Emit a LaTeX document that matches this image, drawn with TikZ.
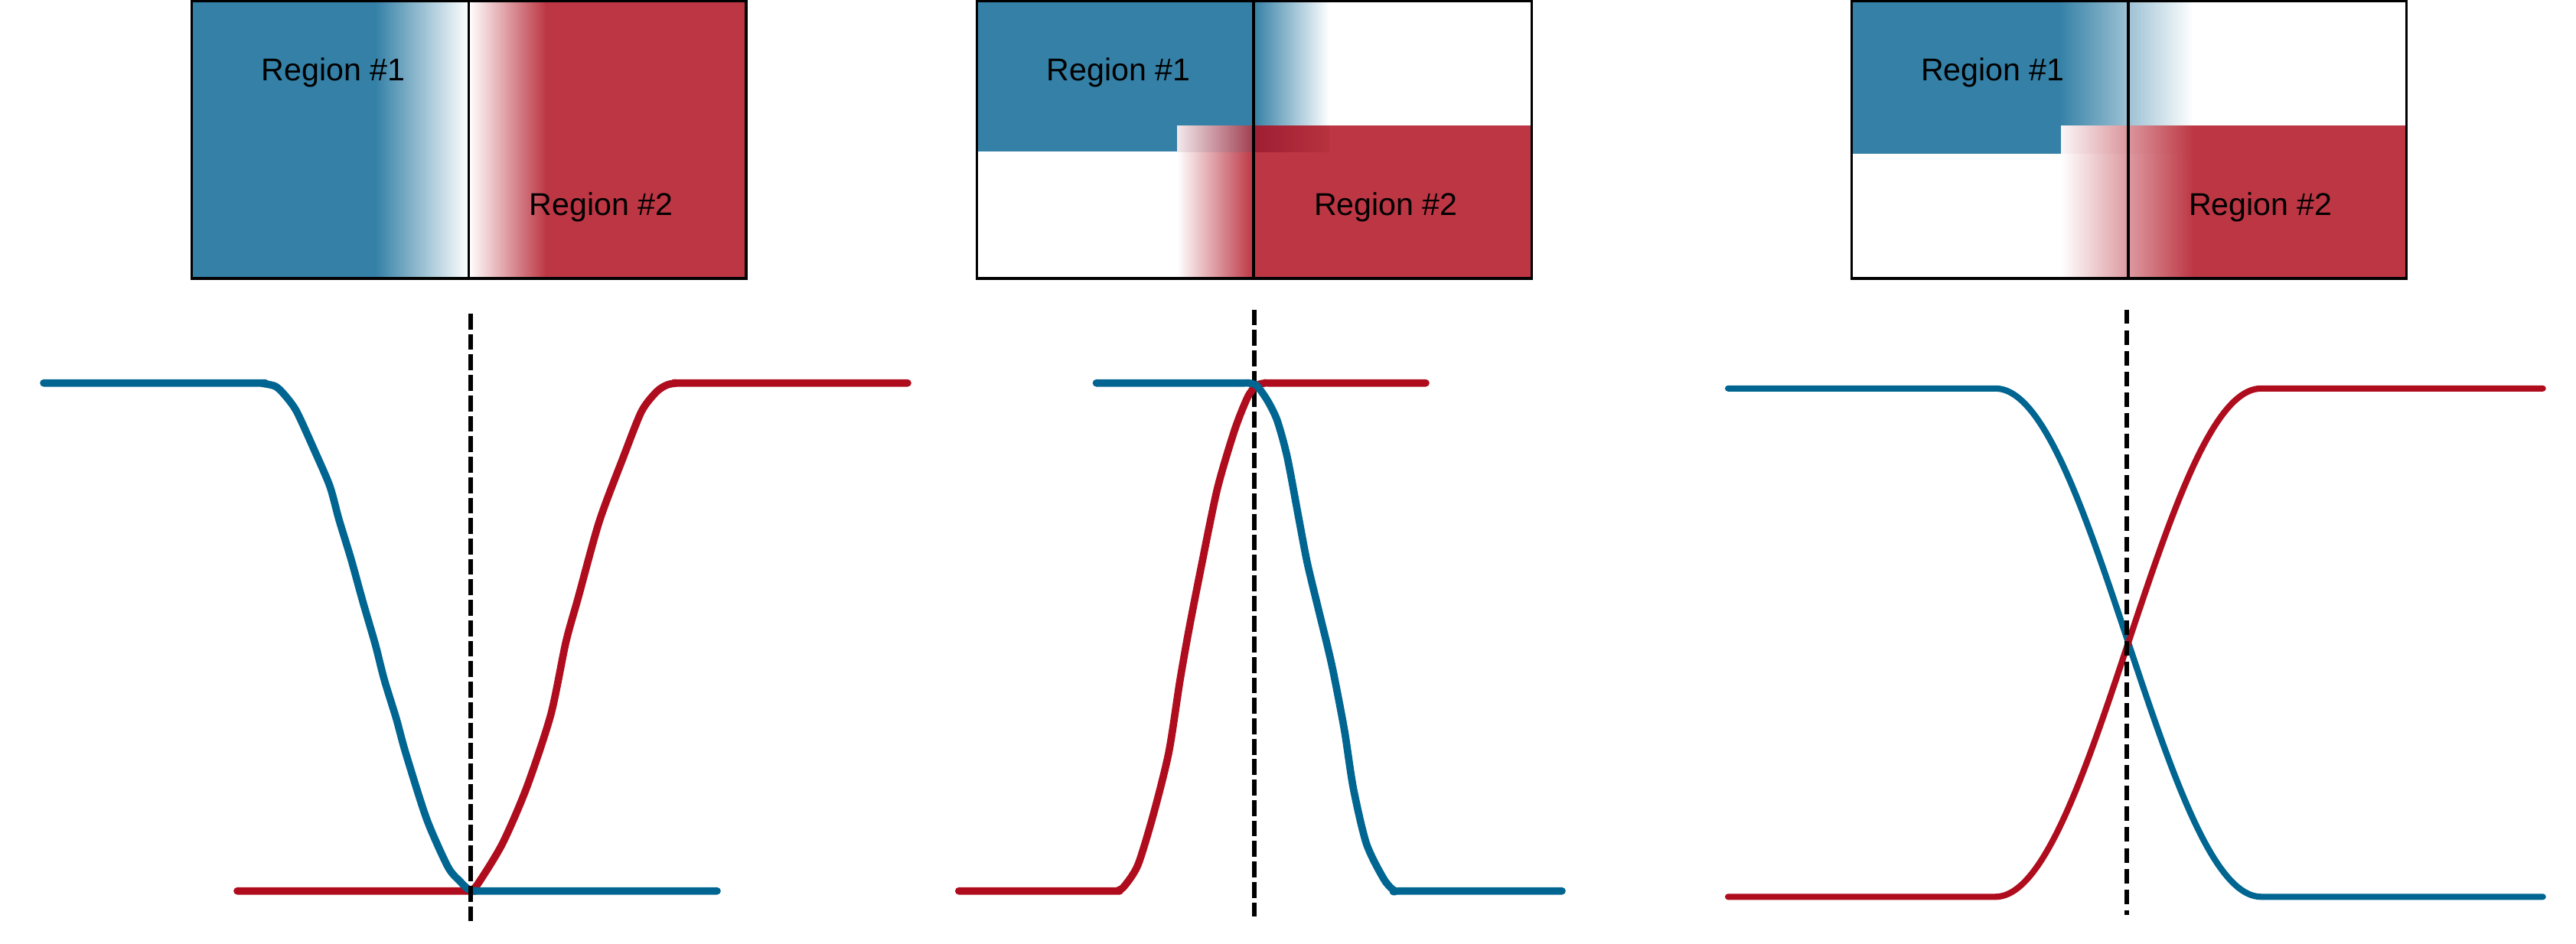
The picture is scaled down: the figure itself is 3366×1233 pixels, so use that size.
\documentclass[tikz,border=0pt]{standalone}
\usepackage{fontspec}
\setmainfont{Liberation Sans}
\definecolor{bfill}{RGB}{52,128,166}
\definecolor{rfill}{RGB}{188,54,67}
\definecolor{bline}{RGB}{0,101,145}
\definecolor{rline}{RGB}{175,13,30}
\definecolor{ovAa}{RGB}{242,232,235}
\definecolor{ovAm}{RGB}{200,140,152}
\definecolor{ovAb}{RGB}{160,62,80}
\definecolor{ovBa}{RGB}{158,30,50}
\definecolor{ovBb}{RGB}{184,50,63}
\definecolor{ovCa}{RGB}{250,246,247}
\definecolor{ovCm}{RGB}{205,137,147}
\tikzset{
  boxframe/.style={draw=black, line width=0.95pt},
  curveA/.style={line width=2.75pt, line cap=round, line join=round},
  curveC/.style={line width=2.3pt, line cap=round, line join=round},
  dashA/.style={draw=black, line width=1.7pt, dash pattern=on 5.9pt off 1.7pt},
  dashC/.style={draw=black, line width=1.7pt, dash pattern=on 5.4pt off 2.3pt},
  lbl/.style={anchor=base, inner sep=0pt, font=\fontsize{11.7}{14}\selectfont}
}
\begin{document}
\begin{tikzpicture}[x=0.01cm, y=-0.01cm]
\useasboundingbox (0,0) rectangle (3366,1233);

% ---------- Panel 1 box ----------
\fill[bfill] (250.5,1.7) rectangle (490,364);
\shade[left color=bfill, right color=white] (490,1.7) rectangle (612.3,364);
\shade[left color=white, right color=rfill] (612.3,1.7) rectangle (714,364);
\fill[rfill] (714,1.7) rectangle (975,364);
\draw[boxframe] (250.5,1.7) rectangle (975,364);
\draw[boxframe] (612.3,1.7) -- (612.3,364);
\node[lbl] (p1r1) at (435.7,105) {Region \#1};
\node[lbl] (p1r2) at (785.7,281.7) {Region \#2};

% ---------- Panel 2 box ----------
\fill[bfill] (1276.5,1.7) rectangle (1638,198.3);
\shade[left color=bfill, right color=white] (1638,1.7) rectangle (1737,164);
\shade[left color=white, right color=rfill] (1538,198.3) rectangle (1638,364);
\fill[rfill] (1638,198.3) rectangle (2001.6,364);
\fill[rfill] (1737,164) rectangle (2001.6,198.3);
\shade[left color=ovAa, middle color=ovAm, right color=ovAb] (1538,164) rectangle (1638,198.3);
\shade[left color=ovBa, right color=ovBb] (1638,164) rectangle (1737,198.3);
\draw[boxframe] (1276.5,1.7) rectangle (2001.6,364);
\draw[boxframe] (1638,1.7) -- (1638,364);
\node[lbl] (p2r1) at (1461.5,105) {Region \#1};
\node[lbl] (p2r2) at (1811,281.7) {Region \#2};

% ---------- Panel 3 box ----------
\fill[bfill] (2419.6,1.7) rectangle (2690,200.7);
\shade[left color=bfill, right color=white] (2690,1.7) rectangle (2866,200.7);
\shade[left color=white, right color=rfill] (2693,200.7) rectangle (2867,364);
\shade[left color=ovCa, middle color=ovCm, right color=rfill] (2693,164) rectangle (2867,200.7);
\fill[rfill] (2867,164) rectangle (3144.3,364);
\draw[boxframe] (2419.6,1.7) rectangle (3144.3,364);
\draw[boxframe] (2781,1.7) -- (2781,364);
\node[lbl] (p3r1) at (2604,105) {Region \#1};
\node[lbl] (p3r2) at (2954,281.7) {Region \#2};

% ---------- Panel 1 curves ----------
\draw[rline, curveA] plot[smooth, tension=0.45] coordinates {(310,1164.7) (600,1164.7) (615,1164) (624.7,1155) (656.4,1103) (688,1030) (719.6,934.7) (739.4,839.5) (755.2,782.4) (783,681.8) (814.5,597.5) (838.3,537.7) (858,512) (872,503) (886,500.7) (900,500.7) (1186,500.7)};
\draw[bline, curveA] plot[smooth, tension=0.45] coordinates {(57,500.7) (328,500.7) (341.6,501) (359.8,505) (371.7,516) (387.5,537.7) (411,589) (431,635.6) (442.9,679) (458.7,730.7) (474.5,787.8) (490.3,842) (502,888) (518,940) (529.9,983.6) (557.5,1070.6) (585.2,1133) (601,1152) (613,1163) (625,1164.7) (640,1164.7) (937,1164.7)};
\draw[dashA] (614.7,410) -- (614.7,1204);

% ---------- Panel 2 curves ----------
\draw[dashA] (1639,404.5) -- (1639,1198);
\draw[rline, curveA] plot[smooth, tension=0.45] coordinates {(1252.8,1164.7) (1448,1164.7) (1461.2,1164) (1469.8,1157.6) (1487,1130.4) (1507,1065) (1527.2,983.6) (1541.6,891) (1553,826) (1567.4,752) (1590.4,640) (1613.3,562) (1630.5,518.7) (1642,504) (1653.5,500.7) (1668,500.7) (1863,500.7)};
\draw[bline, curveA] plot[smooth, tension=0.45] coordinates {(1432.5,500.7) (1616,500.7) (1630.5,500.7) (1642,504) (1656.4,524) (1669,550) (1682,597.5) (1696.6,675) (1708,735) (1722.4,795) (1733.9,842) (1742.5,880) (1756.8,955) (1768.3,1030) (1785.5,1103) (1808.5,1149.5) (1822.8,1164.7) (1836,1164.7) (2041,1164.7)};

% ---------- Panel 3 curves ----------
\draw[bline, curveC] (2258,507.8) -- (2607.4,507.8) -- plot[domain=0:1, samples=80] ({2607.4+347.2*\x},{507.8+664.5*(1-cos(180*\x))/2}) -- (3322.7,1172.3);
\draw[rline, curveC] (2258,1172.3) -- (2607.4,1172.3) -- plot[domain=0:1, samples=80] ({2607.4+347.2*\x},{1172.3-664.5*(1-cos(180*\x))/2}) -- (3322.7,507.8);
\draw[dashC] (2779,404.5) -- (2779,1196);
\end{tikzpicture}
\end{document}
